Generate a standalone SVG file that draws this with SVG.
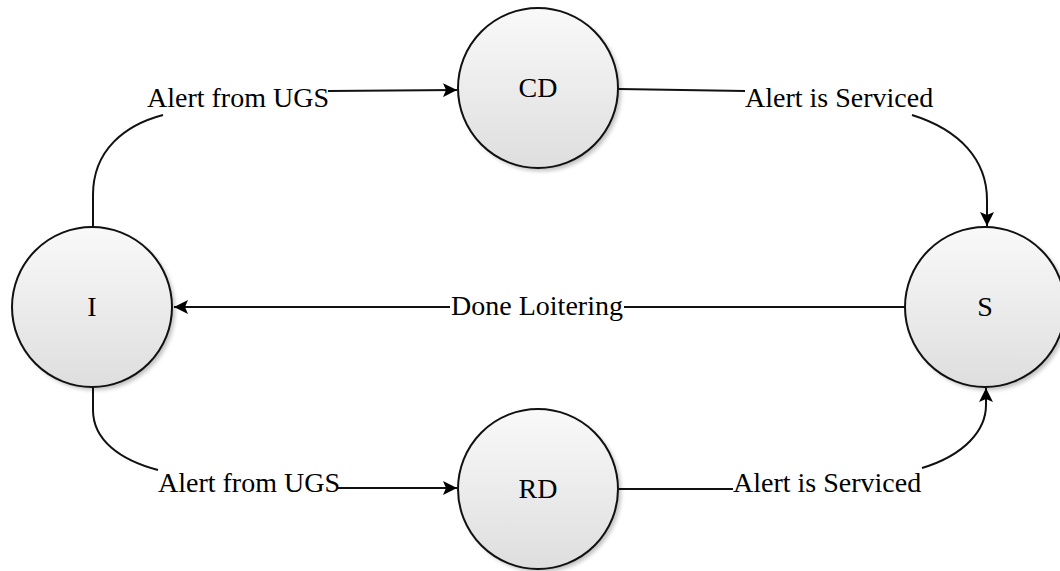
<svg xmlns="http://www.w3.org/2000/svg" width="1060" height="571" viewBox="0 0 1060 571">
  <style>
    .node { fill: url(#grad); stroke: #111; stroke-width: 2; }
    .shadow { fill: #000; opacity: 0.25; filter: url(#blur); }
    .label { font-family: "Liberation Serif", "Times New Roman", serif; font-size: 28px; fill: #000; }
    .nlabel { font-family: "Liberation Serif", "Times New Roman", serif; font-size: 28px; fill: #000; text-anchor: middle; }
    .edge { fill: none; stroke: #111; stroke-width: 2; }
  </style>
  <defs>
    <linearGradient id="grad" x1="0" y1="0" x2="0" y2="1">
      <stop offset="0" stop-color="#f9f9f9"/>
      <stop offset="1" stop-color="#dedede"/>
    </linearGradient>
    <filter id="blur" x="-20%" y="-20%" width="140%" height="140%">
      <feGaussianBlur stdDeviation="2"/>
    </filter>
    <marker id="arrow" viewBox="0 0 14 14" refX="14" refY="7" markerWidth="14" markerHeight="14" markerUnits="userSpaceOnUse" orient="auto">
      <path d="M0,0 L14,7 L0,14 L3,7 Z" fill="#000"/>
    </marker>
  </defs>
  <rect width="1060" height="571" fill="#fff"/>

  <g id="connectors">
    <path class="edge" d="M93,227 L93,195 C93,150 125,125 163,115"/>
    <text class="label" x="147" y="107">Alert from UGS</text>
    <path class="edge" d="M328,91 L457,90" marker-end="url(#arrow)"/>

    <path class="edge" d="M619,89 L745,91"/>
    <text class="label" x="745" y="107">Alert is Serviced</text>
    <path class="edge" d="M912,115 C960,130 987,160 987,200 L987,226" marker-end="url(#arrow)"/>

    <path class="edge" d="M905,307 L624,307"/>
    <text class="label" x="537" y="315" text-anchor="middle">Done Loitering</text>
    <path class="edge" d="M450,307 L174,307" marker-end="url(#arrow)"/>

    <path class="edge" d="M93,387 L93,410 C93,440 120,460 158,470"/>
    <text class="label" x="158" y="492">Alert from UGS</text>
    <path class="edge" d="M338,488 L457,488" marker-end="url(#arrow)"/>

    <path class="edge" d="M619,489 L733,489"/>
    <text class="label" x="733" y="492">Alert is Serviced</text>
    <path class="edge" d="M922,468 C965,455 986,430 986,405 L986,388" marker-end="url(#arrow)"/>
  </g>

  <g id="node-I">
    <circle class="shadow" cx="95" cy="310" r="80"/>
    <circle class="node" cx="92" cy="307" r="80"/>
    <text class="nlabel" x="92" y="316">I</text>
  </g>
  <g id="node-CD">
    <circle class="shadow" cx="541" cy="91" r="80"/>
    <circle class="node" cx="538" cy="88" r="80"/>
    <text class="nlabel" x="538" y="97">CD</text>
  </g>
  <g id="node-S">
    <circle class="shadow" cx="988" cy="310" r="80"/>
    <circle class="node" cx="985" cy="307" r="80"/>
    <text class="nlabel" x="985" y="316">S</text>
  </g>
  <g id="node-RD">
    <circle class="shadow" cx="541" cy="492" r="80"/>
    <circle class="node" cx="538" cy="489" r="80"/>
    <text class="nlabel" x="538" y="498">RD</text>
  </g>
</svg>
